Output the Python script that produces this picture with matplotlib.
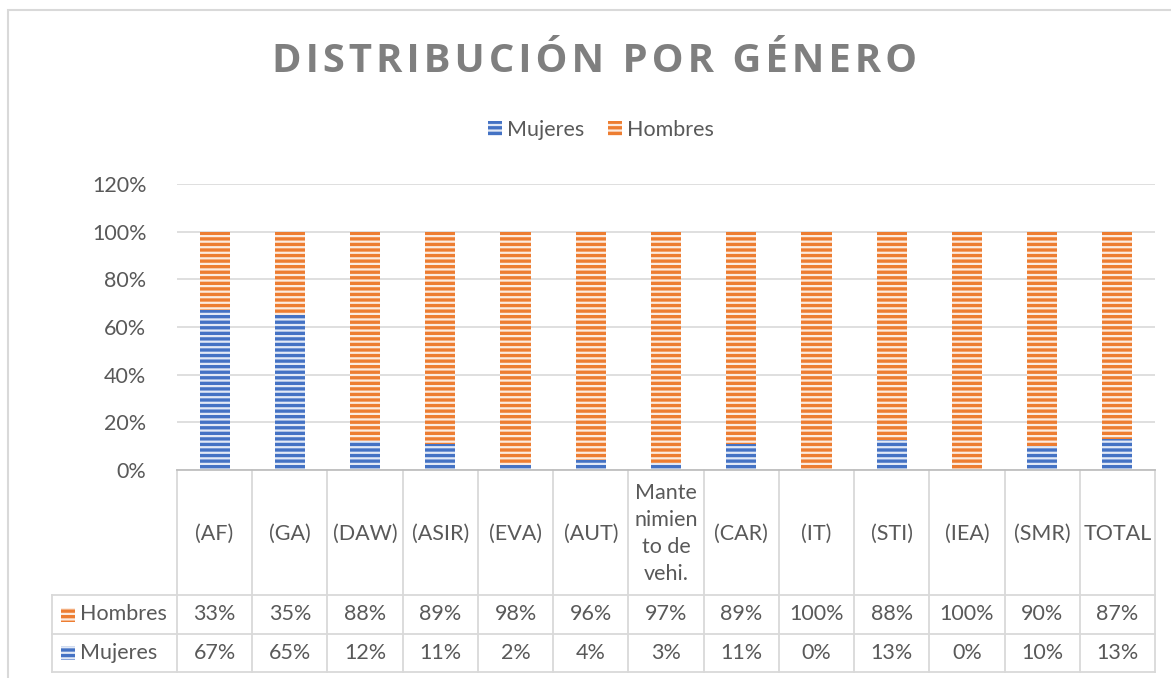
import matplotlib
matplotlib.use('Agg')
import matplotlib.pyplot as plt
from matplotlib.transforms import blended_transform_factory
from matplotlib.patches import Rectangle, Patch
from matplotlib.lines import Line2D

# ---- data ----
categories = ['(AF)', '(GA)', '(DAW)', '(ASIR)', '(EVA)', '(AUT)',
              'Mante\nnimien\nto de\nvehi.', '(CAR)', '(IT)', '(STI)', '(IEA)', '(SMR)', 'TOTAL']
mujeres = [0.67, 0.65, 0.12, 0.11, 0.02, 0.04, 0.03, 0.11, 0.00, 0.125, 0.00, 0.10, 0.13]
hombres = [0.33, 0.35, 0.88, 0.89, 0.98, 0.96, 0.97, 0.89, 1.00, 0.875, 1.00, 0.90, 0.87]
series_names = ['Mujeres', 'Hombres']
yticks = [0.0, 0.2, 0.4, 0.6, 0.8, 1.0, 1.2]
ytick_labels = ['0%', '20%', '40%', '60%', '80%', '100%', '120%']
title = 'DISTRIBUCIÓN POR GÉNERO'

# ---- style ----
W, H = 1171, 678
BLUE = '#4472C4'
ORANGE = '#ED7D31'
TXT = '#595959'
GRID = '#D9D9D9'
FONT = ['Lato', 'DejaVu Sans']
FS = 15.5
plt.rcParams['font.family'] = FONT
plt.rcParams['hatch.linewidth'] = 1.6
HATCH = '---'
STRIPE = (1, 1, 1, 0.85)

fig = plt.figure(figsize=(W / 100, H / 100), dpi=100)
fig.patch.set_facecolor('white')

def fx(px):
    return px / W

def fy(py):
    return 1 - py / H

def pct(v):
    return f'{int(v * 100 + 0.5)}%'

ax_left, ax_right, ax_top, ax_bot = 177, 1155, 184, 470
ax = fig.add_axes([fx(ax_left), fy(ax_bot), fx(ax_right) - fx(ax_left), fy(ax_top) - fy(ax_bot)])
n = len(categories)
x = list(range(n))
ax.set_xlim(-0.5, n - 0.5)
ax.set_ylim(0, 1.2)

ax.bar(x, mujeres, width=0.4, color=BLUE, hatch=HATCH, edgecolor=STRIPE, linewidth=0, zorder=3)
ax.bar(x, hombres, width=0.4, bottom=mujeres, color=ORANGE, hatch=HATCH, edgecolor=STRIPE, linewidth=0, zorder=3)

for s in ax.spines.values():
    s.set_visible(False)
ax.set_yticks(yticks)
ax.set_yticklabels(ytick_labels, fontsize=FS, color=TXT)
ax.tick_params(axis='y', length=0, pad=22)
ax.set_xticks([])
ax.grid(axis='y', color=GRID, linewidth=1.2, zorder=0)
ax.set_axisbelow(True)

# ---- data table ----
tr = blended_transform_factory(ax.transData, fig.transFigure)
row_top, row1, row2, row3 = 470, 595, 634, 672
lc = '#D9D9D9'
lw = 1.3
for i in range(n + 1):
    xb = i - 0.5
    fig.add_artist(Line2D([xb, xb], [fy(row_top), fy(row3)], transform=tr, color=lc, lw=lw))
fig.add_artist(Line2D([fx(ax_left), fx(ax_right)], [fy(row_top), fy(row_top)], color='#BFBFBF', lw=lw))
for ry in (row1, row2, row3):
    fig.add_artist(Line2D([fx(52), fx(ax_right)], [fy(ry), fy(ry)], color=lc, lw=lw))
fig.add_artist(Line2D([fx(52), fx(52)], [fy(row1), fy(row3)], color=lc, lw=lw))

cat_y = fy((row_top + row1) / 2 + 1)
for i, c in enumerate(categories):
    fig.text(i, cat_y, c, transform=tr, ha='center', va='center', fontsize=FS,
             color=TXT, linespacing=1.42)

rows = [('Hombres', hombres, ORANGE, row1, row2), ('Mujeres', mujeres, BLUE, row2, row3)]
for name, vals, col, r0, r1 in rows:
    yc = fy((r0 + r1) / 2)
    fig.add_artist(Rectangle((fx(61), fy((r0 + r1) / 2 + 7)), fx(14), 14 / H, facecolor=col,
                             hatch=HATCH, edgecolor=STRIPE, linewidth=0))
    fig.text(fx(80), yc, name, ha='left', va='center', fontsize=FS, color=TXT)
    for i, v in enumerate(vals):
        fig.text(i, yc, pct(v), transform=tr, ha='center', va='center',
                 fontsize=FS, color=TXT)

# ---- legend ----
handles = [Patch(facecolor=BLUE, hatch=HATCH, edgecolor=STRIPE, linewidth=0, label=series_names[0]),
           Patch(facecolor=ORANGE, hatch=HATCH, edgecolor=STRIPE, linewidth=0, label=series_names[1])]
fig.legend(handles=handles, loc='center', bbox_to_anchor=(fx(601), fy(130)), ncol=2, frameon=False,
           fontsize=FS, labelcolor=TXT, handlelength=0.65, handleheight=0.7,
           handletextpad=0.25, columnspacing=1.1)

# ---- title ----
sp = '\u200a'
spaced = sp.join(list(title))
fig.text(fx(595), fy(61), spaced, ha='center', va='center', fontsize=28.8, fontweight='bold',
         color='#7F7F7F', family=['Open Sans', 'DejaVu Sans'])

# ---- outer frame ----
fig.add_artist(Rectangle((fx(8), -0.1), 1.2, fy(10) + 0.1, fill=False, edgecolor=GRID, lw=1.5))

fig.savefig('out.png', dpi=100)
